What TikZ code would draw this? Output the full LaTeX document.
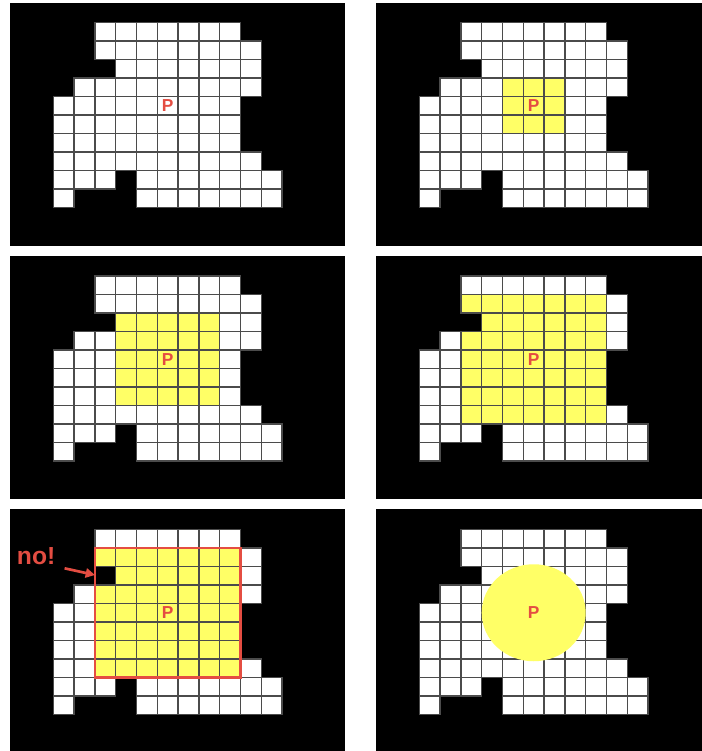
\documentclass[tikz,border=0pt]{standalone}
\usepackage{fontspec}
\setmainfont{Liberation Sans}
\usetikzlibrary{arrows.meta}
\definecolor{cellyellow}{RGB}{255,255,102}
\definecolor{markred}{RGB}{228,77,66}
\definecolor{cellline}{RGB}{75,75,75}

\tikzset{
  panel/.style={fill=black},
  cellbox/.style={draw=cellline, line width=1.1pt},
  plabel/.style={text=markred, font=\bfseries\fontsize{13}{13}\selectfont, inner sep=0pt},
}

% #1,#2 grid origin, #3-#4 yellow columns, #5-#6 yellow rows
\newcommand{\pixgrid}[6]{%
  \foreach \r/\a/\b in {0/2/8,1/2/9,2/3/9,3/1/9,4/0/8,5/0/8,6/0/8,7/0/9,8/0/2,8/4/10,9/0/0,9/4/10}{
    \foreach \c in {\a,...,\b}{
      \pgfmathtruncatemacro\hl{(\c>=#3)&&(\c<=#4)&&(\r>=#5)&&(\r<=#6)}
      \ifnum\hl=1 \def\cellfill{cellyellow}\else\def\cellfill{white}\fi
      \draw[cellbox, fill=\cellfill] ({#1+\c*20.8},{#2+\r*18.5}) rectangle ++(20.8,18.5);
    }
  }
}

\begin{document}
\begin{tikzpicture}[x=0.75pt, y=-0.75pt]
  \useasboundingbox (0,0) rectangle (702,751);
  \fill[white] (0,0) rectangle (702,751);
  % panel 1 - the shape
  \fill[panel] (10,3) rectangle (345,246);
  \pixgrid{53.3}{22.3}{-1}{-1}{-1}{-1}
  \node[plabel] (p1) at ({53.3+5.5*20.8},{22.3+4.5*18.5}) {P};
  % panel 2 - 3x3
  \fill[panel] (376,3) rectangle (702,246);
  \pixgrid{419.3}{22.3}{4}{6}{3}{5}
  \node[plabel] (p2) at ({419.3+5.5*20.8},{22.3+4.5*18.5}) {P};
  % panel 3 - 5x5
  \fill[panel] (10,256) rectangle (345,499);
  \pixgrid{53.3}{276}{3}{7}{2}{6}
  \node[plabel] (p3) at ({53.3+5.5*20.8},{276+4.5*18.5}) {P};
  % panel 4 - 7x7
  \fill[panel] (376,256) rectangle (702,499);
  \pixgrid{419.3}{276}{2}{8}{1}{7}
  \node[plabel] (p4) at ({419.3+5.5*20.8},{276+4.5*18.5}) {P};
  % panel 5 - square with a hole
  \fill[panel] (10,509) rectangle (345,751);
  \pixgrid{53.3}{529.5}{2}{8}{1}{7}
  \draw[markred, line width=1.6pt] ({53.3+2*20.8},{529.5+18.5}) rectangle ({53.3+9*20.8},{529.5+8*18.5});
  \node[plabel] (p5) at ({53.3+5.5*20.8},{529.5+4.5*18.5}) {P};
  \node[text=markred, font=\bfseries\fontsize{18.5}{18.5}\selectfont, anchor=base west, inner sep=0pt] (no) at (16.7,564.3) {no!};
  \coordinate (hole) at (95,575);
  \draw[markred, line width=2pt, -{Triangle[length=7pt,width=7pt]}] ([shift={(9,4)}]no.base east) -- (hole);
  % panel 6 - disc
  \fill[panel] (376,509) rectangle (702,751);
  \pixgrid{419.3}{529.5}{-1}{-1}{-1}{-1}
  \node[plabel] (p6) at ({419.3+5.5*20.8},{529.5+4.5*18.5}) {P};
  \fill[cellyellow] (p6) ellipse (52 and 48.5);
  \node[plabel] at (p6) {P};
\end{tikzpicture}
\end{document}
